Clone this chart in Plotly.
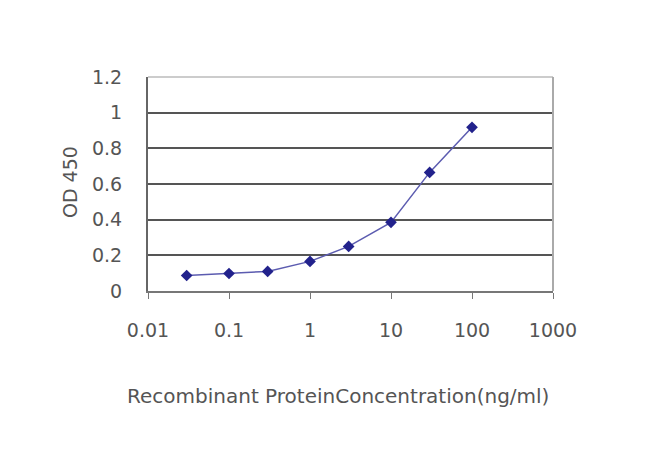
import plotly.graph_objects as go

concentration = [0.03, 0.1, 0.3, 1, 3, 10, 30, 100]
od450 = [0.087, 0.098, 0.11, 0.166, 0.25, 0.385, 0.665, 0.918]
x_ticks = [0.01, 0.1, 1, 10, 100, 1000]
x_tick_labels = ["0.01", "0.1", "1", "10", "100", "1000"]
y_ticks = [0, 0.2, 0.4, 0.6, 0.8, 1, 1.2]
y_tick_labels = ["0", "0.2", "0.4", "0.6", "0.8", "1", "1.2"]

FONT = "DejaVu Sans, Verdana, sans-serif"
TXT = "#555555"

fig = go.Figure()
fig.add_trace(go.Scatter(
    x=concentration, y=od450, mode="lines+markers",
    line=dict(color="#5c5cb0", width=1.5),
    marker=dict(symbol="diamond", size=9, color="#22228c"),
    showlegend=False,
))

fig.update_layout(
    width=650, height=466,
    margin=dict(l=140, r=105, t=69, b=183),
    paper_bgcolor="white", plot_bgcolor="white",
    font=dict(family=FONT, color=TXT),
    xaxis=dict(
        type="log", range=[-2, 3],
        tickvals=x_ticks, ticktext=x_tick_labels,
        tickfont=dict(size=19, color=TXT),
        showgrid=False, zeroline=False,
        showline=True, linecolor="#777777", linewidth=2,
        ticks="outside", ticklen=6, tickcolor="#777777", tickwidth=1,
        ticklabelstandoff=15,
    ),
    yaxis=dict(
        range=[0, 1.2],
        tickvals=y_ticks, ticktext=y_tick_labels,
        tickfont=dict(size=19, color=TXT),
        showgrid=True, gridcolor="#555555", gridwidth=2,
        zeroline=False,
        showline=True, linecolor="#666666", linewidth=2,
        ticks="", ticklabelstandoff=20,
    ),
)
fig.add_annotation(text="Recombinant ProteinConcentration(ng/ml)",
                   xref="paper", yref="paper", x=0.469, y=0, yshift=-105,
                   xanchor="center", yanchor="middle", showarrow=False,
                   font=dict(family=FONT, size=20, color=TXT))
fig.add_annotation(text="OD 450", textangle=-90,
                   xref="paper", yref="paper", x=0, xshift=-78, y=0.509,
                   xanchor="center", yanchor="middle", showarrow=False,
                   font=dict(family=FONT, size=19, color=TXT))
# light frame on top and right
fig.add_shape(type="line", xref="paper", yref="paper", x0=0, x1=1, y0=1, y1=1,
              line=dict(color="#cccccc", width=2))
fig.add_shape(type="line", xref="paper", yref="paper", x0=1, x1=1, y0=0, y1=1,
              line=dict(color="#aaaaaa", width=2))

fig.write_html("out.html")
